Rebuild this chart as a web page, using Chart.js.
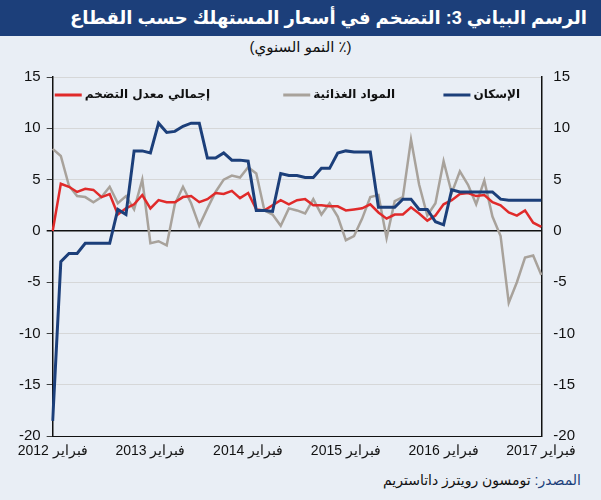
<!DOCTYPE html>
<html lang="ar">
<head>
<meta charset="utf-8">
<script src="https://cdn.jsdelivr.net/npm/chart.js@4"></script>
<style>
  body { margin: 0; width: 601px; height: 500px; background: #e9eef5; font-family: "Liberation Sans", "DejaVu Sans", sans-serif; overflow: hidden; position: relative; }
  .titulo { position: absolute; left: 0; top: 0; width: 601px; height: 36px; background: #1c3f7a; color: #fff; font-size: 18px; font-weight: bold; direction: rtl; text-align: right; line-height: 36px; box-sizing: border-box; padding-right: 14px; white-space: nowrap; }
  .sub { position: absolute; top: 38px; width: 601px; text-align: center; font-size: 15px; direction: rtl; color: #111; }
  .fonte { position: absolute; right: 20px; top: 472px; direction: rtl; font-size: 14px; color: #111; }
  .fonte span { color: #1c3f7a; }
  #wrap { position: absolute; left: 0; top: 62px; width: 601px; height: 400px; }
</style>
</head>
<body>
<div class="titulo">الرسم البياني 3: التضخم في أسعار المستهلك حسب القطاع</div>
<div class="sub">(٪ النمو السنوي)</div>
<div id="wrap"><canvas id="grafico"></canvas></div>
<div class="fonte"><span>المصدر:</span> تومسون رويترز داتاستريم</div>
<script>
const anos = ["فبراير 2012", "فبراير 2013", "فبراير 2014", "فبراير 2015", "فبراير 2016", "فبراير 2017"];
const meses = [];
for (let i = 0; i <= 60; i++) meses.push(i % 12 === 0 ? anos[i / 12] : "");

const total = [0, 4.6, 4.3, 3.8, 4.1, 4.0, 3.3, 3.6, 1.6, 2.2, 2.6, 3.5, 2.2, 3.0, 2.8, 2.8, 3.3, 3.4, 2.8, 3.1,
  3.7, 3.6, 3.9, 3.2, 3.7, 2.1, 2.0, 2.5, 3.0, 2.6, 3.0, 3.1, 2.5, 2.5, 2.4, 2.4, 2.0, 2.1, 2.2, 2.6,
  1.8, 1.2, 1.6, 1.6, 2.3, 1.7, 1.0, 1.5, 2.6, 3.0, 3.6, 3.7, 3.4, 3.5, 2.8, 2.5, 1.8, 1.5, 2.0, 0.8, 0.4];
const alimentos = [8, 7.3, 4.4, 3.4, 3.3, 2.8, 3.3, 4.3, 2.7, 3.4, 2.1, 5.0, -1.2, -1.0, -1.4, 2.6, 4.3, 2.7, 0.5, 2.2,
  3.8, 5.0, 5.4, 5.2, 6.2, 5.6, 2.0, 1.6, 0.5, 2.2, 2.0, 1.7, 3.1, 1.6, 2.7, 1.4, -0.9, -0.5, 1.2, 3.3,
  3.5, -0.7, 2.9, 3.3, 8.9, 4.5, 1.5, 2.7, 6.8, 3.7, 5.8, 4.5, 2.6, 4.9, 1.4, -0.5, -7.0, -5.0, -2.6, -2.4, -4.3];
const habitacao = [-18.5, -3.0, -2.2, -2.2, -1.2, -1.2, -1.2, -1.2, 2.1, 1.6, 7.8, 7.8, 7.6, 10.5, 9.6, 9.7, 10.2, 10.5, 10.5, 7.1,
  7.1, 7.6, 6.9, 6.9, 6.8, 2.0, 2.0, 1.9, 5.6, 5.4, 5.4, 5.2, 5.2, 6.1, 6.1, 7.6, 7.8, 7.7, 7.7, 7.7,
  2.3, 2.3, 2.3, 3.1, 3.1, 2.1, 2.1, 0.9, 0.6, 4.0, 3.8, 3.8, 3.8, 3.8, 3.8, 3.1, 3.0, 3.0, 3.0, 3.0, 3.0];
const ticksY = [-20, -15, -10, -5, 0, 5, 10, 15];

const legenda = {
  id: "legenda",
  afterDraw(chart) {
    const c = chart.ctx;
    const itens = [
      { txt: "إجمالي معدل التضخم", cor: "#e02a2a", x: 210 },
      { txt: "المواد الغذائية", cor: "#a8a29b", x: 395 },
      { txt: "الإسكان", cor: "#1c3f7a", x: 520 }
    ];
    const y = chart.chartArea.top + 18;
    c.save();
    c.font = "bold 12px 'DejaVu Sans', sans-serif";
    c.textAlign = "right";
    c.textBaseline = "middle";
    itens.forEach(it => {
      c.fillStyle = "#111";
      c.fillText(it.txt, it.x, y);
      const w = c.measureText(it.txt).width;
      c.strokeStyle = it.cor;
      c.lineWidth = 3;
      c.beginPath();
      c.moveTo(it.x - w - 3, y);
      c.lineTo(it.x - w - 30, y);
      c.stroke();
    });
    c.restore();
  }
};

const eixoY = pos => ({
  type: "linear", position: pos, min: -20, max: 15,
  afterBuildTicks: ax => { ax.ticks = ticksY.map(v => ({ value: v })); },
  grid: {
    display: pos === "left", drawTicks: true, tickLength: 6,
    color: ctx => ctx.tick && ctx.tick.value === 0 ? "#111" : "#d0d0d0",
    lineWidth: ctx => ctx.tick && ctx.tick.value === 0 ? 1.5 : 0.8,
    tickColor: "#111"
  },
  border: { display: true, color: "#111", width: 1.5 },
  ticks: { color: "#111", font: { size: 15 }, padding: 6 }
});

new Chart(document.getElementById("grafico"), {
  type: "line",
  data: {
    labels: meses,
    datasets: [
      { label: "الإسكان", data: habitacao, borderColor: "#1c3f7a", borderWidth: 3, pointRadius: 0, yAxisID: "y" },
      { label: "إجمالي معدل التضخم", data: total, borderColor: "#e02a2a", borderWidth: 2.5, pointRadius: 0, yAxisID: "y" },
      { label: "المواد الغذائية", data: alimentos, borderColor: "#a8a29b", borderWidth: 2.5, pointRadius: 0, yAxisID: "y" }
    ]
  },
  options: {
    responsive: true,
    maintainAspectRatio: false,
    animation: false,
    layout: { padding: { left: 13, right: 20, top: 15, bottom: 0 } },
    plugins: { legend: { display: false }, tooltip: { enabled: false } },
    scales: {
      x: {
        offset: false,
        grid: { display: false, drawTicks: true, tickLength: 5, tickColor: "#111" },
        border: { color: "#111" },
        ticks: { autoSkip: false, maxRotation: 0, color: "#111", font: { size: 14 }, padding: 2 }
      },
      y: eixoY("left"),
      y1: eixoY("right")
    }
  },
  plugins: [legenda]
});
</script>
</body>
</html>
